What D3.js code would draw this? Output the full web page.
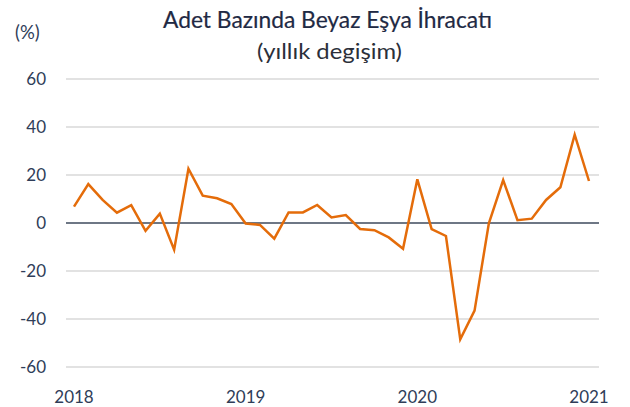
<!DOCTYPE html>
<html>
<head>
<meta charset="utf-8">
<script src="https://cdn.jsdelivr.net/npm/d3@7"></script>
<style>
  body { margin: 0; background: #fff; }
  text { font-family: Lato, "Open Sans", sans-serif; }
</style>
</head>
<body>
<div id="chart"></div>
<script>
// monthly, Jan 2018 .. Jan 2021
var months = d3.range(37);
var values = [6.8, 16.2, 9.6, 4.3, 7.4, -3.3, 3.9, -11.1, 22.6, 11.4, 10.3, 7.9,
    -0.2, -0.8, -6.5, 4.4, 4.4, 7.5, 2.3, 3.3, -2.5, -3.0, -6.0, -10.7,
    18.2, -2.5, -5.4, -48.5, -36.5, -0.1, 17.9, 1.2, 1.8, 9.6, 14.9, 36.8,
    17.5];
var yearTicks = [0, 12, 24, 36];
var yearLabels = ['2018', '2019', '2020', '2021'];
var yTicks = [-60, -40, -20, 0, 20, 40, 60];

var width = 630, height = 407;
var textColor = '#2f3d58';

var svg = d3.select('#chart').append('svg')
    .attr('width', width)
    .attr('height', height);

var x = d3.scaleLinear().domain([0, 36]).range([74, 589]);
var y = d3.scaleLinear().domain([-60, 60]).range([367, 79]);

// grid
svg.append('g').selectAll('line')
    .data(yTicks.filter(function (d) { return d !== 0; }))
    .enter().append('line')
    .attr('x1', 66).attr('x2', 599)
    .attr('y1', function (d) { return y(d); })
    .attr('y2', function (d) { return y(d); })
    .attr('stroke', '#d9d9d9')
    .attr('stroke-width', 1.5);

// y labels
svg.append('g').selectAll('text')
    .data(yTicks)
    .enter().append('text')
    .attr('x', 46)
    .attr('y', function (d) { return y(d); })
    .attr('dy', '0.36em')
    .attr('text-anchor', 'end')
    .attr('font-size', 17)
    .attr('fill', textColor)
    .text(function (d) { return d; });

// x labels
svg.append('g').selectAll('text')
    .data(yearTicks)
    .enter().append('text')
    .attr('x', function (d) { return x(d); })
    .attr('y', 403)
    .attr('text-anchor', 'middle')
    .attr('font-size', 17)
    .attr('fill', textColor)
    .text(function (d, i) { return yearLabels[i]; });

// zero line
svg.append('line')
    .attr('x1', 66).attr('x2', 599)
    .attr('y1', y(0)).attr('y2', y(0))
    .attr('stroke', '#3e4a5c')
    .attr('stroke-width', 1.5);

var line = d3.line()
    .x(function (d, i) { return x(months[i]); })
    .y(function (d) { return y(d); });

svg.append('path')
    .datum(values)
    .attr('d', line)
    .attr('fill', 'none')
    .attr('stroke', '#e46c0a')
    .attr('stroke-width', 2.5)
    .attr('stroke-linejoin', 'miter');

// titles
svg.append('text')
    .attr('x', 163).attr('y', 28)
    .attr('font-size', 23)
    .attr('textLength', 329)
    .attr('lengthAdjust', 'spacingAndGlyphs')
    .attr('fill', '#1f2a44')
    .attr('stroke', '#1f2a44')
    .attr('stroke-width', 0.2)
    .text('Adet Bazında Beyaz Eşya İhracatı');

svg.append('text')
    .attr('x', 257).attr('y', 59)
    .attr('font-size', 22)
    .attr('textLength', 145)
    .attr('lengthAdjust', 'spacingAndGlyphs')
    .attr('fill', '#2b2f3a')
    .text('(yıllık degişim)');

svg.append('text')
    .attr('x', 15).attr('y', 39)
    .attr('font-size', 18.5)
    .attr('fill', textColor)
    .text('(%)');
</script>
</body>
</html>
